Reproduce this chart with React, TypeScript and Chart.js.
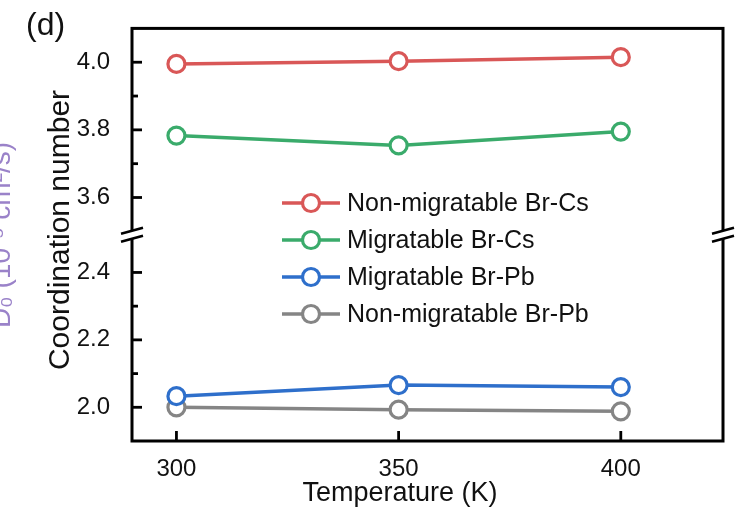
import { useEffect, useRef } from 'react';
import { Chart, registerables } from 'chart.js';

Chart.register(...registerables);

// ---- data ----
const temperatures = [300, 350, 400];
const nonMigBrCs = [3.995, 4.003, 4.015];
const migBrCs = [3.783, 3.754, 3.795];
const migBrPb = [2.033, 2.066, 2.06];
const nonMigBrPb = [2.0, 1.993, 1.988];

const seriesLabels = ['Non-migratable Br-Cs', 'Migratable Br-Cs', 'Migratable Br-Pb', 'Non-migratable Br-Pb'];
const seriesColors = ['#d95757', '#3aab6b', '#2e6fcb', '#858585'];

const xTicks = [300, 350, 400];
const xRange = [290, 423];
const upperTicks = [3.6, 3.8, 4.0];
const upperMinorTicks = [3.7, 3.9];
const upperRange = [3.49, 4.1];
const lowerTicks = [2.0, 2.2, 2.4];
const lowerMinorTicks = [2.1, 2.3];
const lowerRange = [1.9, 2.512];

const xTitle = 'Temperature (K)';
const yTitle = 'Coordination number';
const panelLabel = '(d)';
const clippedNeighbourTitle = 'D\u2080 (10\u207B\u2075 cm\u00B2/s)';

const FONT = '"Liberation Sans", Arial, Helvetica, sans-serif';

const toPoints = (ys: number[]) => temperatures.map((t, i) => ({ x: t, y: ys[i] }));

const decorPlugin = {
  id: 'decor',
  afterDraw(chart: any) {
    const ctx: CanvasRenderingContext2D = chart.ctx;
    const { left, right, top, bottom } = chart.chartArea;
    const xs = chart.scales.x;
    const yT = chart.scales.yTop;
    const yB = chart.scales.yBottom;
    ctx.save();
    ctx.strokeStyle = '#000';
    ctx.lineWidth = 3;
    ctx.lineCap = 'butt';
    ctx.strokeRect(left, top, right - left, bottom - top);

    const seg = (x1: number, y1: number, x2: number, y2: number) => {
      ctx.beginPath();
      ctx.moveTo(x1, y1);
      ctx.lineTo(x2, y2);
      ctx.stroke();
    };
    ctx.lineWidth = 2.8;
    xTicks.forEach((v) => {
      const px = xs.getPixelForValue(v);
      seg(px, bottom, px, bottom - 10);
    });
    upperTicks.forEach((v) => { const py = yT.getPixelForValue(v); seg(left, py, left + 10, py); });
    lowerTicks.forEach((v) => { const py = yB.getPixelForValue(v); seg(left, py, left + 10, py); });
    upperMinorTicks.forEach((v) => { const py = yT.getPixelForValue(v); seg(left, py, left + 6, py); });
    lowerMinorTicks.forEach((v) => { const py = yB.getPixelForValue(v); seg(left, py, left + 6, py); });

    // axis break marks
    const by = yT.bottom;
    [left, right].forEach((bx) => {
      ctx.fillStyle = '#fff';
      ctx.beginPath();
      ctx.moveTo(bx - 11, by - 1);
      ctx.lineTo(bx + 11, by - 7);
      ctx.lineTo(bx + 11, by + 1);
      ctx.lineTo(bx - 11, by + 7);
      ctx.closePath();
      ctx.fill();
      ctx.lineWidth = 2.6;
      seg(bx - 11, by - 1, bx + 11, by - 7);
      seg(bx - 11, by + 7, bx + 11, by + 1);
    });

    // legend
    const rowsY = [203, 240, 277, 314];
    chart.data.datasets.forEach((ds: any, i: number) => {
      const y = rowsY[i];
      ctx.strokeStyle = ds.borderColor;
      ctx.lineWidth = 3.5;
      seg(282, y, 340, y);
      ctx.beginPath();
      ctx.arc(311, y, 8.5, 0, Math.PI * 2);
      ctx.fillStyle = '#fff';
      ctx.fill();
      ctx.lineWidth = 3.2;
      ctx.stroke();
      ctx.fillStyle = '#111';
      ctx.font = `25px ${FONT}`;
      ctx.textAlign = 'left';
      ctx.textBaseline = 'middle';
      ctx.fillText(ds.label, 347, y + 1);
    });

    ctx.fillStyle = '#111';
    // x title
    ctx.font = `27px ${FONT}`;
    ctx.textAlign = 'center';
    ctx.textBaseline = 'middle';
    ctx.fillText(xTitle, 400, 494);

    // y title
    ctx.save();
    ctx.translate(61, 230);
    ctx.rotate(-Math.PI / 2);
    ctx.font = `30px ${FONT}`;
    ctx.textAlign = 'center';
    ctx.textBaseline = 'middle';
    ctx.fillText(yTitle, 0, 0);
    ctx.restore();

    // panel label
    ctx.font = `32px ${FONT}`;
    ctx.textAlign = 'left';
    ctx.textBaseline = 'alphabetic';
    ctx.fillText(panelLabel, 26, 35);

    // clipped title of neighbouring panel
    ctx.save();
    ctx.translate(10, 235);
    ctx.rotate(-Math.PI / 2);
    ctx.fillStyle = '#9a82c9';
    ctx.font = `28px ${FONT}`;
    ctx.textAlign = 'center';
    ctx.textBaseline = 'alphabetic';
    ctx.fillText(clippedNeighbourTitle, 0, 0);
    ctx.restore();

    ctx.restore();
  },
};

export default function App() {
  const ref = useRef<HTMLCanvasElement | null>(null);
  useEffect(() => {
    document.body.style.margin = '0';
    const canvas = ref.current;
    if (!canvas) return;
    const mk = (i: number, ys: number[], axis: string) => ({
      label: seriesLabels[i],
      data: toPoints(ys),
      yAxisID: axis,
      borderColor: seriesColors[i],
      backgroundColor: '#ffffff',
      pointBackgroundColor: '#ffffff',
      pointBorderColor: seriesColors[i],
      borderWidth: 3.5,
      pointRadius: 8.5,
      pointBorderWidth: 3.2,
      pointHoverRadius: 8.5,
      tension: 0,
      clip: false as any,
    });
    const tickFont = { family: FONT, size: 24 };
    const yCommon = (range: number[], ticks: number[]) => ({
      type: 'linear' as const,
      position: 'left' as const,
      stack: 'coord',
      stackWeight: 1,
      min: range[0],
      max: range[1],
      grid: { display: false },
      border: { display: false },
      ticks: { font: tickFont, color: '#111', padding: 14, autoSkip: false, callback: (v: any) => Number(v).toFixed(1) },
      afterBuildTicks: (s: any) => { s.ticks = ticks.map((v) => ({ value: v })); },
      afterFit: (s: any) => { s.width = 132; },
    });
    const chart = new Chart(canvas, {
      type: 'line',
      data: {
        datasets: [
          mk(0, nonMigBrCs, 'yTop'),
          mk(1, migBrCs, 'yTop'),
          mk(2, migBrPb, 'yBottom'),
          mk(3, nonMigBrPb, 'yBottom'),
        ],
      },
      options: {
        responsive: false,
        animation: false,
        devicePixelRatio: 1,
        layout: { padding: { top: 27, right: 28, left: 0, bottom: 0 } },
        plugins: { legend: { display: false }, tooltip: { enabled: false } },
        events: [],
        scales: {
          x: {
            type: 'linear',
            min: xRange[0],
            max: xRange[1],
            grid: { display: false },
            border: { display: false },
            ticks: { font: tickFont, color: '#111', padding: 6, autoSkip: false, maxRotation: 0 },
            afterBuildTicks: (s: any) => { s.ticks = xTicks.map((v) => ({ value: v })); },
            afterFit: (s: any) => { s.height = 69; },
            title: { display: false },
          },
          yTop: { ...yCommon(upperRange, upperTicks), weight: 2 },
          yBottom: { ...yCommon(lowerRange, lowerTicks), weight: 1 },
        },
      } as any,
      plugins: [decorPlugin],
    });
    return () => chart.destroy();
  }, []);
  return (
    <div style={{ width: 751, height: 510 }}>
      <canvas ref={ref} width={751} height={510} />
    </div>
  );
}
